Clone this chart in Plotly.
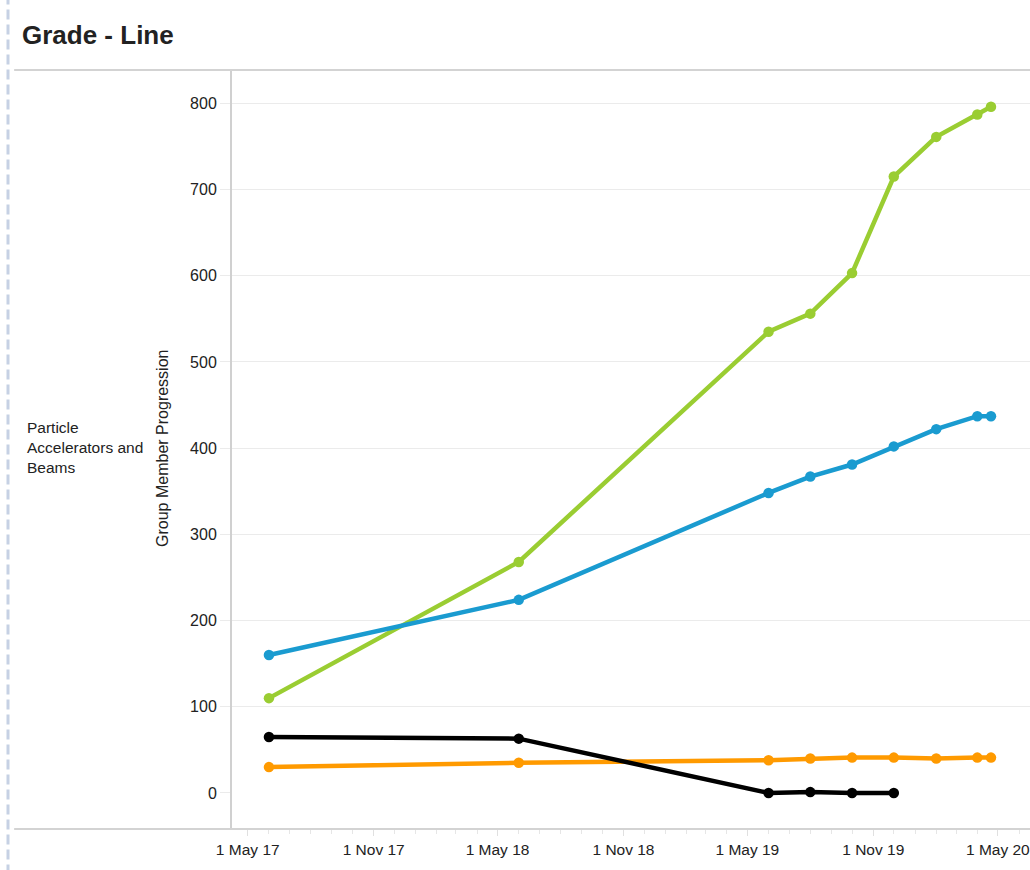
"""Grade - Line chart for Particle Accelerators and Beams."""

from plotly import graph_objects as go


dates = [
    "2017-06-01",
    "2018-06-01",
    "2019-06-01",
    "2019-08-01",
    "2019-10-01",
    "2019-12-01",
    "2020-02-01",
    "2020-04-01",
    "2020-04-21",
]
green_values = [110, 268, 535, 556, 603, 715, 761, 787, 796]
blue_values = [160, 224, 348, 367, 381, 402, 422, 437, 437]
orange_values = [30, 35, 38, 40, 41, 41, 40, 41, 41]
black_values = [65, 63, 0, 1, 0, 0]

y_ticks = [0, 100, 200, 300, 400, 500, 600, 700, 800]

FONT = "Liberation Sans, Arial, sans-serif"
TEXT = "#222222"

series = [
    ("Green", green_values, "#9acd32"),
    ("Blue", blue_values, "#1a9bd0"),
    ("Orange", orange_values, "#ff9a00"),
    ("Black", black_values, "#000000"),
]

fig = go.Figure()
for name, values, colour in series:
    fig.add_trace(
        go.Scatter(
            x=dates[: len(values)],
            y=values,
            name=name,
            mode="lines+markers",
            line=dict(color=colour, width=4.5),
            marker=dict(color=colour, size=10.5),
            hoverinfo="skip",
        )
    )

fig.update_layout(
    width=1030,
    height=870,
    margin=dict(l=232, r=0, t=70, b=41),
    paper_bgcolor="white",
    plot_bgcolor="white",
    showlegend=False,
    font=dict(family=FONT, size=16, color=TEXT),
)

fig.update_xaxes(
    type="date",
    range=["2017-04-08", "2020-06-17"],
    tick0="2017-05-01",
    dtick="M6",
    tickformat="%-d %b %y",
    ticks="outside",
    ticklen=6,
    tickcolor="#e0e0e0",
    showgrid=False,
    zeroline=False,
    showline=False,
    ticklabeloverflow="allow",
    tickfont=dict(family=FONT, size=15.5, color=TEXT),
    minor=dict(dtick="M1", ticks="outside", ticklen=4, tickcolor="#e6e6e6"),
)

fig.update_yaxes(
    range=[-41.8, 838.6],
    tickvals=y_ticks,
    ticks="outside",
    ticklen=10,
    tickcolor="#ebebeb",
    showgrid=True,
    gridcolor="#ebebeb",
    gridwidth=1,
    zeroline=True,
    zerolinecolor="white",
    zerolinewidth=2,
    showline=True,
    linecolor="#d0d0d0",
    linewidth=2,
    tickfont=dict(family=FONT, size=16, color=TEXT),
)

# dashed zero reference line
fig.add_shape(
    type="line", xref="paper", yref="y", x0=0, x1=1, y0=0, y1=0,
    line=dict(color="#c8c8c8", width=1, dash="dash"), layer="between",
)
# frame lines above and below the plot, reaching to the left edge
for y in (0, 1):
    fig.add_shape(
        type="line", xref="paper", yref="paper", x0=-0.273, x1=1, y0=y, y1=y,
        line=dict(color="#d3d3d3", width=2), layer="above",
    )
# dashed left border
fig.add_shape(
    type="line", xref="paper", yref="paper", x0=-0.2807, x1=-0.2807,
    y0=-0.06, y1=1.1,
    line=dict(color="#c6d1e4", width=3, dash="10px,5px"),
)

fig.add_annotation(
    text="<b>Grade - Line</b>", xref="paper", yref="paper",
    x=-0.2657, y=1.046, xanchor="left", yanchor="middle", showarrow=False,
    font=dict(family=FONT, size=26, color=TEXT),
)
fig.add_annotation(
    text="Particle<br>Accelerators and<br>Beams", xref="paper", yref="paper",
    x=-0.2594, y=0.502, xanchor="left", yanchor="middle", align="left",
    showarrow=False, font=dict(family=FONT, size=15.5, color=TEXT),
)
fig.add_annotation(
    text="Group Member Progression", xref="paper", yref="paper",
    x=-0.0865, y=0.502, xanchor="center", yanchor="middle", textangle=-90,
    showarrow=False, font=dict(family=FONT, size=16, color=TEXT),
)

# drop the browser's default body margin so the figure fills the window
fig.write_html(
    "out.html",
    config={"displayModeBar": False},
    post_script="document.body.style.margin = '0px';",
)
